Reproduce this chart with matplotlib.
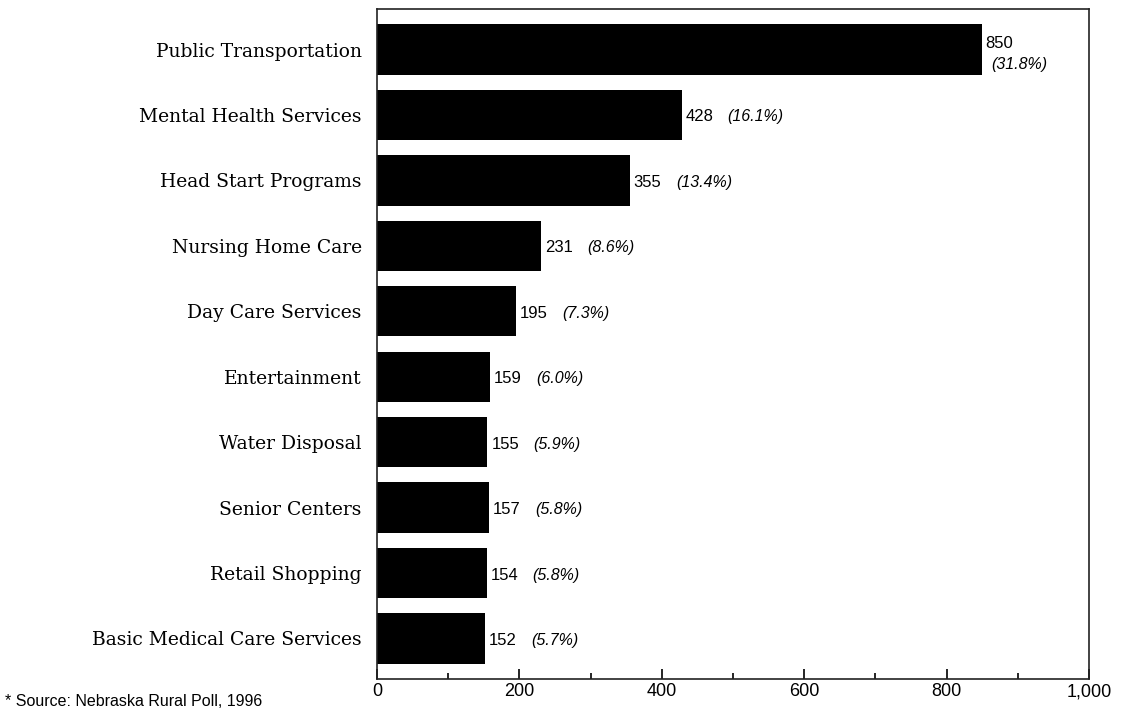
import matplotlib
matplotlib.use("Agg")
import matplotlib.pyplot as plt
from matplotlib.ticker import MultipleLocator, FuncFormatter

categories = ["Public Transportation", "Mental Health Services", "Head Start Programs",
              "Nursing Home Care", "Day Care Services", "Entertainment", "Water Disposal",
              "Senior Centers", "Retail Shopping", "Basic Medical Care Services"]
values = [850, 428, 355, 231, 195, 159, 155, 157, 154, 152]
percents = ["(31.8%)", "(16.1%)", "(13.4%)", "(8.6%)", "(7.3%)", "(6.0%)",
            "(5.9%)", "(5.8%)", "(5.8%)", "(5.7%)"]
source_note = "* Source: Nebraska Rural Poll, 1996"

sans = ["Liberation Sans", "DejaVu Sans"]
serif = ["DejaVu Serif", "Liberation Serif"]

fig = plt.figure(figsize=(11.3, 7.1), dpi=100)
ax = fig.add_axes([377/1130, 31/710, (1089-377)/1130, (679-9)/710])

ypos = list(range(len(categories)))
ax.barh(ypos, values, height=0.77, color="black")
ax.set_ylim(len(categories) - 1 + 0.62, -0.62)
ax.set_xlim(0, 1000)

ax.set_yticks(ypos)
ax.set_yticklabels(categories, family=serif, fontsize=13.5)
ax.tick_params(axis="y", length=0, pad=11)

ax.xaxis.set_major_locator(MultipleLocator(200))
ax.xaxis.set_minor_locator(MultipleLocator(100))
ax.xaxis.set_major_formatter(FuncFormatter(lambda v, p: f"{int(v):,}"))
ax.tick_params(axis="x", which="major", direction="in", length=7, width=1.2, pad=3, labelsize=13)
ax.tick_params(axis="x", which="minor", direction="in", length=4, width=1.2)
for lab in ax.get_xticklabels():
    lab.set_family(sans)

for s in ax.spines.values():
    s.set_linewidth(1.2)
    s.set_color("#222222")

for i, (v, pc) in enumerate(zip(values, percents)):
    if i == 0:
        ax.annotate(str(v), (v, i), xytext=(3, 6), textcoords="offset pixels",
                    ha="left", va="center", fontsize=12, family=sans)
        ax.annotate(pc, (v, i), xytext=(9, -15), textcoords="offset pixels",
                    ha="left", va="center", fontsize=11.5, style="italic", family=sans)
    else:
        ax.annotate(str(v), (v, i), xytext=(4, -2), textcoords="offset pixels",
                    ha="left", va="center", fontsize=12, family=sans)
        ax.annotate(pc, (v, i), xytext=(46, -2), textcoords="offset pixels",
                    ha="left", va="center", fontsize=11.5, style="italic", family=sans)

fig.text(5/1130, 1 - 702/710, source_note, ha="left", va="center", fontsize=11.5, family=sans)

fig.savefig("out.png", dpi=100, facecolor="white")
